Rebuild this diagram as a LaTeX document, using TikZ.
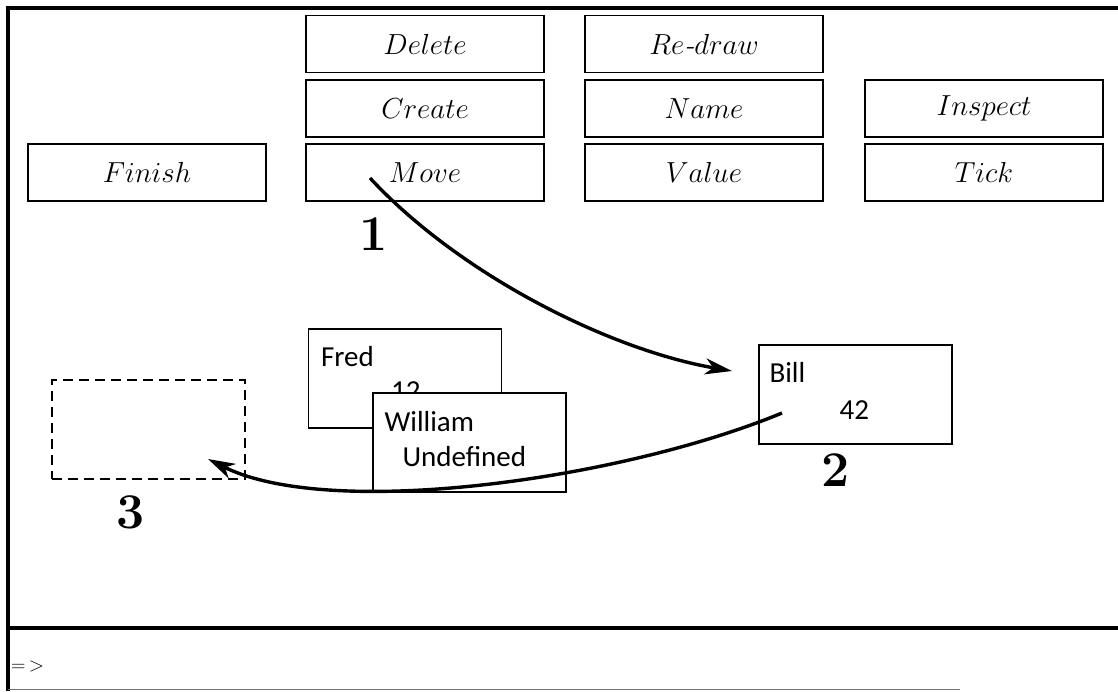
\RequirePackage{fix-cm}
\documentclass[tikz,border=0pt]{standalone}
\usepackage{fontspec}
\newfontfamily\calib{Carlito}
\usetikzlibrary{arrows.meta,calc}
\tikzset{
  btn/.style={draw, line width=1.8pt, minimum width=238pt, minimum height=57pt, inner sep=0pt, font=\fontsize{29}{33}\selectfont},
  obj/.style={draw, line width=1.3pt, minimum width=193pt, minimum height=99pt, inner sep=0pt, fill=white},
  objtxt/.style={anchor=base west, inner sep=0pt, font=\calib\fontsize{29}{34}\selectfont},
  num/.style={font=\bfseries\fontsize{50}{56}\selectfont, inner sep=0pt},
  conn/.style={line width=3.4pt, -{Stealth[length=27pt,width=16pt,inset=8pt]}},
  frame/.style={line width=4pt},
}
\begin{document}
\begin{tikzpicture}[x=1pt,y=-1pt]
\useasboundingbox (0,0) rectangle (1118,691);
% window frame
\draw[frame] (8,691) -- (8,8) -- (1118,8);
\draw[frame] (8,628) -- (1118,628);
\draw[line width=1pt, black!55] (8,689) -- (960,689);
% buttons
\node[btn] (delete)  at (425,44)    {$Delete$};
\node[btn] (create)  at (425,108.5) {$Create$};
\node[btn] (move)    at (425,172.5) {$Move$};
\node[btn] (finish)  at (147,172.5) {$Finish$};
\node[btn] (redraw)  at (704,44)    {$Re$\textit{-}$draw$};
\node[btn] (name)    at (704,108.5) {$Name$};
\node[btn] (value)   at (704,172.5) {$Value$};
\node[btn] (inspect) at (984,108.5) {$Inspect$};
\node[btn] (tick)    at (984,172.5) {$Tick$};
% objects
\node[obj] (fred) at (405,378.5) {};
\node[objtxt] (fredname) at ($(fred.north west)+(13,38)$) {Fred};
\node[objtxt] (fredval) at ($(fred.north west)+(83,72)$) {12};
\node[obj] (william) at (469.5,442.5) {};
\node[objtxt] (willname) at ($(william.north west)+(12,39)$) {William};
\node[objtxt] (willval) at ($(william.north west)+(30,74)$) {Undefined};
\node[obj] (bill) at (855.5,394.5) {};
\node[objtxt] (billname) at ($(bill.north west)+(11,38)$) {Bill};
\node[objtxt] (billval) at ($(bill.north west)+(81,75)$) {42};
\node[obj, dash pattern=on 10pt off 6pt] (slot) at (148.5,429.5) {};
% connectors
\coordinate (m1) at (370,178);
\coordinate (b1) at (732,371);
\draw[conn] (m1) .. controls (460,275) and (610,350) .. (b1);
\coordinate (b2) at (782,413);
\coordinate (s2) at (208,459);
\draw[conn] (b2) .. controls (620,480) and (330,520) .. (s2);
% step numbers
\node[num] (n1) at (374,234) {1};
\node[num] (n2) at (836,470) {2};
\node[num] (n3) at (131,512) {3};
% prompt
\node[anchor=west, inner sep=0pt, font=\fontsize{20}{24}\selectfont] (prompt) at (11,666) {$=\,>$};
\end{tikzpicture}
\end{document}
